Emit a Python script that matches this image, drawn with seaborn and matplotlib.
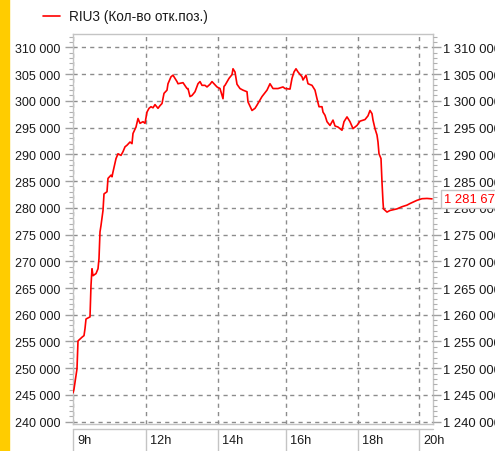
import seaborn as sns
import pandas as pd
import matplotlib.pyplot as plt
import matplotlib.transforms as mtransforms
from matplotlib.patches import Rectangle
from matplotlib.lines import Line2D
from matplotlib.ticker import MultipleLocator, FuncFormatter

# bar number since session start, open interest (contracts)
bar = [0, 1, 3, 4, 5, 9, 11, 12, 13, 17, 18, 19, 20, 23, 25, 26, 27, 28, 30, 31,
       34, 35, 38, 39, 40, 43, 45, 48, 50, 52, 54, 57, 59, 60, 63, 65, 67, 70, 72, 74,
       76, 78, 80, 82, 85, 87, 89, 91, 94, 95, 98, 100, 102, 104, 105, 110, 114, 115, 117, 119,
       122, 125, 127, 129, 132, 134, 137, 139, 144, 147, 150, 151, 152, 156, 159, 160, 162, 164, 167, 170,
       174, 175, 179, 182, 184, 189, 194, 197, 200, 205, 210, 212, 217, 219, 221, 223, 225, 229, 230, 233,
       235, 239, 242, 244, 246, 249, 250, 252, 254, 257, 260, 262, 265, 269, 271, 274, 277, 280, 284, 287,
       292, 295, 297, 299, 300, 302, 304, 305, 306, 308, 309, 310, 310.5, 314, 317, 324, 329, 334, 337, 344,
       349, 354, 359]
oi = [245400, 246100, 248600, 249900, 255100, 255800, 256100, 257400, 259200, 259600,
      265500, 268600, 267300, 267700, 268600, 270500, 275500, 276700, 279500, 282600,
      283000, 285500, 286100, 285800, 286700, 289200, 290100, 289800, 290500, 291400,
      291700, 292300, 292000, 293900, 295100, 296700, 295800, 296100, 295800, 297900,
      298600, 298900, 298700, 299300, 298600, 299100, 299500, 301400, 302000, 303200,
      304500, 304800, 304200, 303600, 303200, 303400, 302300, 302300, 300800, 301000,
      301700, 303200, 303600, 302900, 302900, 302600, 303100, 303600, 302600, 302300,
      300400, 302700, 302900, 304200, 304900, 306000, 305400, 303100, 302300, 302000,
      301700, 299800, 298200, 298600, 299200, 300800, 302000, 303200, 302300, 302300,
      302600, 302300, 302200, 304200, 305400, 306000, 305400, 304500, 303900, 304800,
      303200, 302900, 302000, 300400, 298900, 298900, 297900, 297300, 296100, 295400,
      296400, 295300, 295100, 294500, 296100, 297000, 296100, 294800, 295400, 296200,
      296500, 297200, 298200, 297600, 296400, 294800, 293600, 292300, 290100, 289200,
      284800, 281100, 279800, 279200, 279500, 279800, 280200, 280500, 280800, 281400,
      281700, 281750, 281670]
tick_pos = [0, 73, 145, 213, 285, 346]
tick_labels = ['9h', '12h', '14h', '16h', '18h', '20h']
series_name = 'RIU3 (Кол-во отк.поз.)'
last_value = 1281670
offset = 1000000

df = pd.DataFrame({'bar': bar, 'oi': oi})

sns.set_style('white')
plt.rcParams['font.family'] = ['Liberation Sans', 'DejaVu Sans']

fig = plt.figure(figsize=(4.95, 4.52), dpi=100)
fig.patches.append(Rectangle((0, 0), 9 / 495, 1, transform=fig.transFigure,
                             color='#ffcc00', zorder=0))

ax = fig.add_axes([73 / 495, 27 / 452, 360 / 495, 390 / 452])
sns.lineplot(x='bar', y='oi', data=df, color='red', lw=1.2, ax=ax, zorder=3)

ax.set_xlim(0, 360)
ax.set_ylim(239570, 312500)
ax.set_xlabel('')
ax.set_ylabel('')

fmt = FuncFormatter(lambda v, p: f'{int(round(v)):,}'.replace(',', ' '))
ax.yaxis.set_major_locator(MultipleLocator(5000))
ax.yaxis.set_minor_locator(MultipleLocator(1000))
ax.yaxis.set_major_formatter(fmt)
ax.set_xticks(tick_pos)
ax.set_xticklabels([])
ax.tick_params(axis='x', length=0)
ax.tick_params(axis='y', which='major', length=6, width=1, color='#a0a0a0',
               labelsize=9, labelcolor='#1a1a1a', pad=3, left=True)
ax.tick_params(axis='y', which='minor', length=3, width=0.8, color='#b0b0b0', left=True)
ax.grid(True, which='major', ls=(0, (3, 3)), color='#8c8c8c', lw=1)
for s in ax.spines.values():
    s.set_color('#c4c4c4')
    s.set_linewidth(1)

ax2 = ax.twinx()
lo, hi = ax.get_ylim()
ax2.set_ylim(lo + offset, hi + offset)
ax2.yaxis.set_major_locator(MultipleLocator(5000))
ax2.yaxis.set_minor_locator(MultipleLocator(1000))
ax2.yaxis.set_major_formatter(fmt)
ax2.tick_params(axis='y', which='major', length=6, width=1, color='#a0a0a0',
                labelsize=9.4, labelcolor='#1a1a1a', pad=1.5, right=True)
ax2.tick_params(axis='y', which='minor', length=3, width=0.8, color='#b0b0b0', right=True)
for s in ax2.spines.values():
    s.set_visible(False)

# time cells under the chart
trans = mtransforms.blended_transform_factory(ax.transData, ax.transAxes)
ax.add_line(Line2D([0, 360], [-0.0128, -0.0128], transform=trans, color='#c4c4c4',
                   lw=1, clip_on=False))
for pos, lab in zip(tick_pos, tick_labels):
    ax.add_line(Line2D([pos, pos], [-0.0128, -0.08], transform=trans, color='#c4c4c4',
                       lw=1, clip_on=False))
    ax.text(pos + 4, -0.041, lab, transform=trans, ha='left', va='center',
            fontsize=9.2, color='#1a1a1a', clip_on=False)

# last value tag
trans2 = mtransforms.blended_transform_factory(ax2.transAxes, ax2.transData)
ax2.text(1.03, last_value, f'{last_value:,}'.replace(',', ' '), transform=trans2,
         ha='left', va='center', fontsize=9.4, color='red', clip_on=False,
         bbox=dict(boxstyle='square,pad=0.25', fc='white', ec='#c4c4c4', lw=1))

# legend
fig.add_artist(Line2D([43 / 495, 60 / 495], [1 - 17 / 452, 1 - 17 / 452],
                      transform=fig.transFigure, color='red', lw=1.2))
fig.text(69 / 495, 1 - 17 / 452, series_name, ha='left', va='center',
         fontsize=9.8, color='#1a1a1a')

fig.savefig('out.png', dpi=100)
